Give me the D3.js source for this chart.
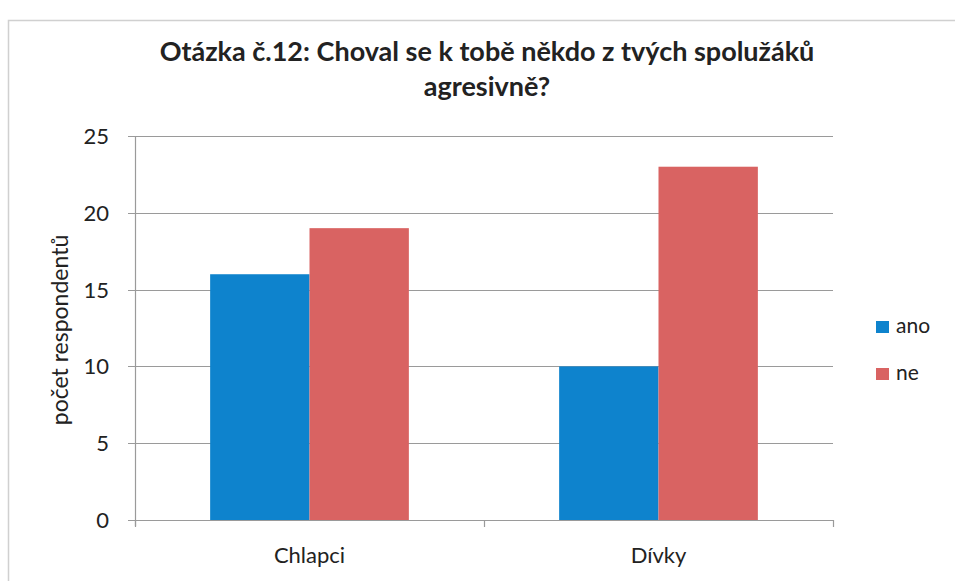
<!DOCTYPE html>
<html><head><meta charset="utf-8">
<script src="https://cdn.jsdelivr.net/npm/d3@7"></script>
<style>body{margin:0;background:#fff}svg{display:block}</style>
</head><body>
<script>
const categories = ["Chlapci", "Dívky"];
const seriesNames = ["ano", "ne"];
const ano = [16, 10];
const ne = [19, 23];
const yTicks = [0, 5, 10, 15, 20, 25];
const titleLines = ["Otázka č.12: Choval se k tobě někdo z tvých spolužáků", "agresivně?"];
const yLabel = "počet respondentů";
const colors = ["#0E83CD", "#D96362"];

const W = 955, H = 581;
const svg = d3.select("body").append("svg").attr("width", W).attr("height", H);
const font = "Lato, 'Open Sans', sans-serif";

// frame
svg.append("rect").attr("x", 8.5).attr("y", 20.5).attr("width", W).attr("height", H)
  .attr("fill", "none").attr("stroke", "#d0d0d0").attr("stroke-width", 1.5);

const pLeft = 135, pRight = 833, pTop = 136, pBottom = 520;
const x = d3.scaleBand().domain(categories).range([pLeft, pRight]).paddingInner(0.4306).paddingOuter(0.2153);
const xs = d3.scaleBand().domain(seriesNames).range([0, x.bandwidth()]);
const y = d3.scaleLinear().domain([0, 25]).range([pBottom, pTop]);

// gridlines
svg.append("g").selectAll("line").data(yTicks).join("line")
  .attr("x1", pLeft - 7).attr("x2", pRight)
  .attr("y1", d => Math.round(y(d)) + 0.5).attr("y2", d => Math.round(y(d)) + 0.5)
  .attr("stroke", "#9a9a9a").attr("stroke-width", 1.2);

// y tick labels
svg.append("g").selectAll("text").data(yTicks).join("text")
  .attr("x", 109).attr("y", d => y(d)).attr("dy", "0.36em")
  .attr("text-anchor", "end").attr("font-family", font).attr("font-size", 22).attr("fill", "#222")
  .text(d => d);

// axes lines
svg.append("line").attr("x1", pLeft + 0.5).attr("x2", pLeft + 0.5).attr("y1", pTop).attr("y2", pBottom + 6)
  .attr("stroke", "#9a9a9a").attr("stroke-width", 1.2);
const xTickPos = [pLeft, (pLeft + pRight) / 2, pRight];
svg.append("g").selectAll("line").data(xTickPos).join("line")
  .attr("x1", d => d + 0.5).attr("x2", d => d + 0.5).attr("y1", pBottom).attr("y2", pBottom + 7)
  .attr("stroke", "#9a9a9a").attr("stroke-width", 1.2);

// bars
const data = categories.map((c, i) => ({ c, vals: [ano[i], ne[i]] }));
const g = svg.append("g").selectAll("g").data(data).join("g")
  .attr("transform", d => `translate(${x(d.c)},0)`);
g.selectAll("rect").data(d => d.vals.map((v, j) => ({ s: seriesNames[j], v, j }))).join("rect")
  .attr("x", d => xs(d.s)).attr("width", xs.bandwidth())
  .attr("y", d => y(d.v)).attr("height", d => y(0) - y(d.v))
  .attr("fill", d => colors[d.j]);

// x labels
svg.append("g").selectAll("text").data(categories).join("text")
  .attr("x", d => x(d) + x.bandwidth() / 2).attr("y", 563)
  .attr("text-anchor", "middle").attr("font-family", font).attr("font-size", 22).attr("fill", "#222")
  .text(d => d);

// y label
svg.append("text").attr("transform", "translate(68,330) rotate(-90)")
  .attr("text-anchor", "middle").attr("font-family", font).attr("font-size", 23).attr("fill", "#222")
  .text(yLabel);

// title
svg.append("g").selectAll("text").data(titleLines).join("text")
  .attr("x", 487).attr("y", (d, i) => 61 + i * 35)
  .attr("text-anchor", "middle").attr("font-family", font).attr("font-weight", "bold")
  .attr("font-size", 27).attr("fill", "#222")
  .text(d => d);

// legend
const lg = svg.append("g").selectAll("g").data(seriesNames).join("g")
  .attr("transform", (d, i) => `translate(876,${321 + i * 47})`);
lg.append("rect").attr("width", 13).attr("height", 12).attr("fill", (d, i) => colors[i]);
lg.append("text").attr("x", 20).attr("y", 12).attr("font-family", font).attr("font-size", 21).attr("fill", "#222")
  .text(d => d);
</script>
</body></html>
